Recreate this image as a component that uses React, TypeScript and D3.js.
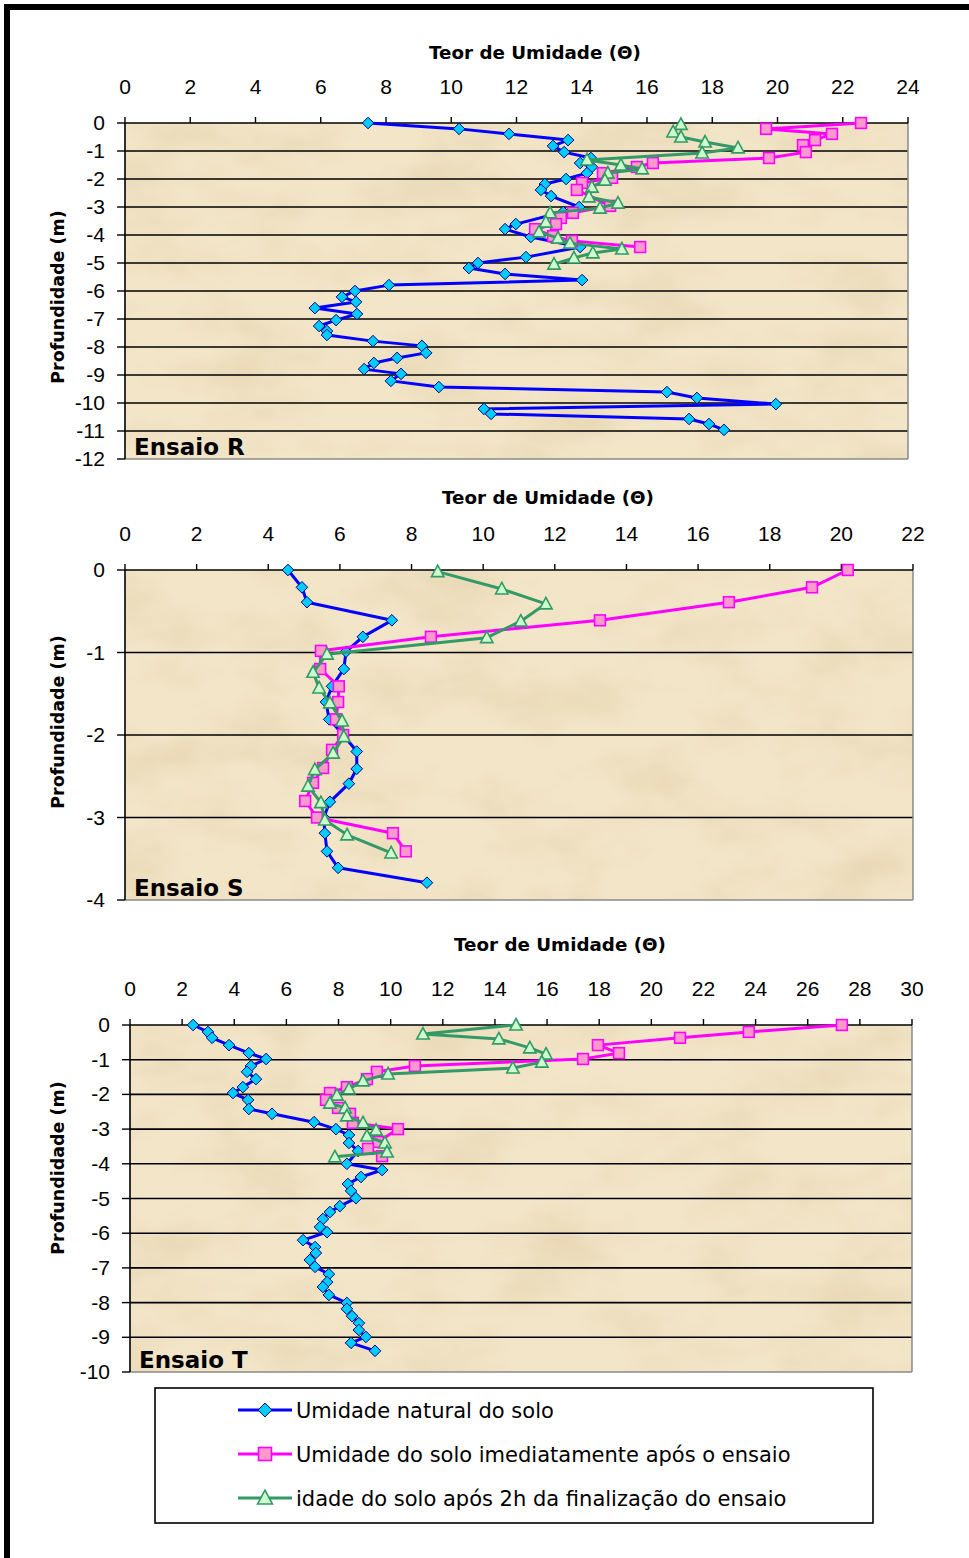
import React from 'react';
import * as d3 from 'd3';

type Pt = [number, number]; // [teor de umidade, profundidade]

// ---------- tick labels ----------
const xTicksR = [0, 2, 4, 6, 8, 10, 12, 14, 16, 18, 20, 22, 24];
const yTicksR = [0, -1, -2, -3, -4, -5, -6, -7, -8, -9, -10, -11, -12];
const xTicksS = [0, 2, 4, 6, 8, 10, 12, 14, 16, 18, 20, 22];
const yTicksS = [0, -1, -2, -3, -4];
const xTicksT = [0, 2, 4, 6, 8, 10, 12, 14, 16, 18, 20, 22, 24, 26, 28, 30];
const yTicksT = [0, -1, -2, -3, -4, -5, -6, -7, -8, -9, -10];

const seriesNames = [
  'Umidade natural do solo',
  'Umidade do solo imediatamente após o ensaio',
  'idade do solo após 2h da finalização do ensaio',
];

// ---------- Ensaio R ----------
const rNatural: Pt[] = [
  [7.45, 0], [10.24, -0.21], [11.77, -0.39], [13.58, -0.61], [13.12, -0.82], [13.46, -1.04],
  [14.28, -1.25], [13.95, -1.43], [14.31, -1.57], [14.16, -1.79], [13.52, -2.0], [12.87, -2.18],
  [12.75, -2.39], [13.06, -2.61], [13.92, -3.0], [13.43, -3.18], [11.98, -3.61], [11.65, -3.79],
  [12.44, -4.07], [13.95, -4.43], [12.29, -4.79], [10.82, -5.0], [10.54, -5.18], [11.65, -5.39],
  [14.01, -5.61], [8.09, -5.79], [7.05, -6.0], [6.65, -6.21], [7.08, -6.39], [5.82, -6.61],
  [7.11, -6.82], [6.47, -7.04], [5.95, -7.25], [6.19, -7.43], [6.19, -7.57], [7.6, -7.79],
  [9.1, -7.96], [9.23, -8.21], [8.34, -8.39], [7.63, -8.57], [7.33, -8.79], [8.46, -8.96],
  [8.15, -9.21], [9.62, -9.43], [16.61, -9.61], [17.53, -9.82], [19.95, -10.04], [11.0, -10.21],
  [11.22, -10.39], [17.29, -10.57], [17.9, -10.75], [18.36, -10.96],
];
const rImmediate: Pt[] = [
  [22.56, 0], [19.65, -0.21], [21.67, -0.39], [21.15, -0.61], [20.78, -0.79], [20.87, -1.04],
  [19.74, -1.25], [16.18, -1.43], [15.69, -1.57], [14.65, -1.79], [14.93, -1.96], [14.01, -2.14],
  [13.85, -2.39], [14.87, -2.96], [13.73, -3.21], [13.36, -3.39], [13.21, -3.61], [12.57, -3.79],
  [13.12, -4.04], [13.7, -4.21], [15.79, -4.43],
];
const r2h: Pt[] = [
  [17.04, -0.05], [16.8, -0.32], [17.04, -0.5], [17.78, -0.68], [18.79, -0.89], [17.69, -1.07],
  [14.16, -1.32], [15.2, -1.5], [15.85, -1.64], [14.8, -1.79], [14.71, -2.04], [14.31, -2.29],
  [14.22, -2.64], [15.11, -2.86], [14.56, -3.04], [13.03, -3.21], [12.9, -3.54], [12.69, -3.89],
  [13.27, -4.11], [13.64, -4.29], [15.23, -4.5], [14.34, -4.64], [13.76, -4.82], [13.15, -5.04],
];

// ---------- Ensaio S ----------
const sNatural: Pt[] = [
  [4.55, 0], [4.94, -0.21], [5.08, -0.39], [7.45, -0.61], [6.64, -0.81], [6.17, -0.99],
  [6.11, -1.2], [5.78, -1.41], [5.61, -1.6], [5.7, -1.81], [6.1, -2.0], [6.47, -2.2],
  [6.47, -2.41], [6.25, -2.59], [5.72, -2.81], [5.55, -3.0], [5.58, -3.19], [5.64, -3.41],
  [5.95, -3.61], [8.43, -3.79],
];
const sImmediate: Pt[] = [
  [20.18, 0], [19.18, -0.21], [16.86, -0.39], [13.26, -0.61], [8.54, -0.81], [5.47, -0.98],
  [5.45, -1.2], [5.97, -1.41], [5.95, -1.6], [5.89, -1.81], [6.09, -2.0], [5.78, -2.18],
  [5.53, -2.4], [5.25, -2.58], [5.03, -2.8], [5.36, -3.0], [7.48, -3.19], [7.84, -3.41],
];
const s2h: Pt[] = [
  [8.73, -0.02], [10.52, -0.23], [11.75, -0.41], [11.05, -0.62], [10.1, -0.82], [5.64, -1.02],
  [5.25, -1.24], [5.42, -1.43], [5.72, -1.61], [6.06, -1.83], [6.11, -2.02], [5.81, -2.22],
  [5.3, -2.42], [5.11, -2.62], [5.47, -2.82], [5.58, -3.03], [6.2, -3.21], [7.43, -3.43],
];

// ---------- Ensaio T ----------
const tNatural: Pt[] = [
  [2.42, 0], [2.99, -0.2], [3.15, -0.37], [3.8, -0.58], [4.56, -0.81], [5.22, -0.98],
  [4.64, -1.18], [4.49, -1.35], [4.83, -1.56], [4.33, -1.79], [3.95, -1.96], [4.53, -2.16],
  [4.56, -2.42], [5.45, -2.56], [7.06, -2.8], [7.9, -3.0], [8.4, -3.17], [8.4, -3.4],
  [8.75, -3.63], [8.32, -4.0], [9.67, -4.18], [8.86, -4.38], [8.36, -4.58], [8.48, -4.78],
  [8.67, -4.99], [8.05, -5.22], [7.67, -5.39], [7.4, -5.59], [7.29, -5.82], [7.56, -5.97],
  [6.64, -6.2], [7.1, -6.4], [7.13, -6.57], [6.9, -6.77], [7.1, -6.97], [7.63, -7.18],
  [7.56, -7.41], [7.4, -7.55], [7.63, -7.78], [8.32, -8.01], [8.32, -8.18], [8.52, -8.39],
  [8.78, -8.59], [8.78, -8.79], [9.05, -8.99], [8.48, -9.16], [9.4, -9.39],
];
const tImmediate: Pt[] = [
  [27.31, 0], [23.74, -0.2], [21.1, -0.37], [17.95, -0.58], [18.76, -0.81], [17.38, -0.98],
  [10.93, -1.18], [9.47, -1.35], [9.09, -1.56], [8.32, -1.79], [7.67, -1.96], [7.52, -2.16],
  [7.98, -2.39], [8.44, -2.56], [8.55, -2.82], [10.28, -3.0], [9.51, -3.37], [9.13, -3.57],
  [9.67, -3.78],
];
const t2h: Pt[] = [
  [14.81, 0], [11.24, -0.26], [14.15, -0.4], [15.34, -0.66], [15.96, -0.84], [15.8, -1.07],
  [14.69, -1.24], [9.9, -1.41], [8.94, -1.61], [8.4, -1.84], [7.94, -2.02], [7.67, -2.25],
  [8.25, -2.39], [8.32, -2.62], [8.94, -2.82], [9.44, -3.03], [9.09, -3.2], [9.78, -3.4],
  [9.86, -3.66], [7.86, -3.8],
];

// ---------- layout ----------
const FONT = '"DejaVu Sans", sans-serif';
const TICKFONT = '"Liberation Sans", Arial, sans-serif';

const COLORS = [
  { line: '#0000FF', fill: '#00CCFF', stroke: '#000080' },
  { line: '#FF00FF', fill: '#FF99CC', stroke: '#FF00FF' },
  { line: '#339966', fill: '#CCFFCC', stroke: '#339966' },
];

interface Panel {
  label: string;
  xTicks: number[];
  yTicks: number[];
  series: Pt[][];
  left: number; right: number; top: number; bottom: number;
  titleX: number; titleY: number; tickY: number; yLabelY: number;
}

const panels: Panel[] = [
  { label: 'Ensaio R', xTicks: xTicksR, yTicks: yTicksR, series: [rNatural, rImmediate, r2h],
    left: 125, right: 908, top: 123, bottom: 459, titleX: 535, titleY: 59, tickY: 94, yLabelY: 297 },
  { label: 'Ensaio S', xTicks: xTicksS, yTicks: yTicksS, series: [sNatural, sImmediate, s2h],
    left: 125, right: 913, top: 570, bottom: 900, titleX: 548, titleY: 504, tickY: 541, yLabelY: 722 },
  { label: 'Ensaio T', xTicks: xTicksT, yTicks: yTicksT, series: [tNatural, tImmediate, t2h],
    left: 130, right: 912, top: 1025, bottom: 1372, titleX: 560, titleY: 951, tickY: 996, yLabelY: 1168 },
];

function Marker({ kind, x, y, s = 1 }: { kind: number; x: number; y: number; s?: number }) {
  const c = COLORS[kind];
  if (kind === 0) {
    const r = 5.8 * s;
    return <path d={`M${x},${y - r}L${x + r},${y}L${x},${y + r}L${x - r},${y}Z`} fill={c.fill} stroke={c.stroke} strokeWidth={1} />;
  }
  if (kind === 1) {
    const h = 5.4 * s;
    return <rect x={x - h} y={y - h} width={2 * h} height={2 * h} fill={c.fill} stroke={c.stroke} strokeWidth={1.6} />;
  }
  const w = 6.2 * s;
  return <path d={`M${x},${y - 6.5 * s}L${x + w},${y + 5 * s}L${x - w},${y + 5 * s}Z`} fill={c.fill} stroke={c.stroke} strokeWidth={1.6} />;
}

function ChartPanel({ p, idx }: { p: Panel; idx: number }) {
  const xs = d3.scaleLinear().domain([0, p.xTicks[p.xTicks.length - 1]]).range([p.left, p.right]);
  const ys = d3.scaleLinear().domain([0, p.yTicks[p.yTicks.length - 1]]).range([p.top, p.bottom]);
  const line = d3.line<Pt>().x(d => xs(d[0])).y(d => ys(d[1]));
  const w = p.right - p.left;
  const h = p.bottom - p.top;
  return (
    <g>
      <text x={p.titleX} y={p.titleY} textAnchor="middle" fontFamily={FONT} fontWeight="bold" fontSize={18.3} fill="#000">
        Teor de Umidade (Θ)
      </text>
      <rect x={p.left} y={p.top} width={w} height={h} fill="#F3E6C8" />
      <rect x={p.left} y={p.top} width={w} height={h} filter={`url(#paper${idx})`} />
      {/* gridlines */}
      {p.yTicks.slice(1, -1).map(t => (
        <line key={t} x1={p.left} x2={p.right} y1={ys(t)} y2={ys(t)} stroke="#000" strokeWidth={1.6} />
      ))}
      {/* right/bottom plot border */}
      <line x1={p.right} x2={p.right} y1={p.top} y2={p.bottom} stroke="#8a8a8a" strokeWidth={1.5} />
      <line x1={p.left} x2={p.right} y1={p.bottom} y2={p.bottom} stroke="#8a8a8a" strokeWidth={1.5} />
      {/* axes */}
      <line x1={p.left} x2={p.right} y1={p.top} y2={p.top} stroke="#000" strokeWidth={1.6} />
      <line x1={p.left} x2={p.left} y1={p.top} y2={p.bottom} stroke="#000" strokeWidth={1.6} />
      {p.xTicks.map(t => (
        <g key={t}>
          <line x1={xs(t)} x2={xs(t)} y1={p.top - 6} y2={p.top} stroke="#000" strokeWidth={1.4} />
          <text x={xs(t)} y={p.tickY} textAnchor="middle" fontFamily={TICKFONT} fontSize={21} fill="#000">{t}</text>
        </g>
      ))}
      {p.yTicks.map(t => (
        <g key={t}>
          <line x1={p.left - 8} x2={p.left} y1={ys(t)} y2={ys(t)} stroke="#000" strokeWidth={1.4} />
          <text x={p.left - 20} y={ys(t) + 7} textAnchor="end" fontFamily={TICKFONT} fontSize={21} fill="#000">{t}</text>
        </g>
      ))}
      <text transform={`translate(64,${p.yLabelY}) rotate(-90)`} textAnchor="middle" fontFamily={FONT} fontWeight="bold" fontSize={17.5} fill="#000">
        Profundidade (m)
      </text>
      {/* series */}
      {p.series.map((s, k) => (
        <g key={k}>
          <path d={line(s) || ''} fill="none" stroke={COLORS[k].line} strokeWidth={3} strokeLinejoin="round" />
          {s.map((d, i) => <Marker key={i} kind={k} x={xs(d[0])} y={ys(d[1])} />)}
        </g>
      ))}
      <text x={p.left + 9} y={p.bottom - 4} fontFamily={FONT} fontWeight="bold" fontSize={23} fill="#000">{p.label}</text>
    </g>
  );
}

export default function App() {
  const legendY = [1410, 1454, 1498];
  return (
    <svg width={969} height={1558} style={{ position: 'absolute', left: 0, top: 0, background: '#fff' }}>
      <defs>
        {panels.map((_, i) => (
          <filter key={i} id={`paper${i}`} x="0" y="0" width="100%" height="100%">
            <feTurbulence type="fractalNoise" baseFrequency="0.01 0.018" numOctaves={4} seed={i * 7 + 3} />
            <feColorMatrix type="matrix" values="0 0 0 0 0.80  0 0 0 0 0.68  0 0 0 0 0.46  1.8 0 0 0 -0.72" />
          </filter>
        ))}
      </defs>
      <rect x={0} y={0} width={969} height={1558} fill="#fff" />
      {panels.map((p, i) => <ChartPanel key={p.label} p={p} idx={i} />)}
      {/* legend */}
      <rect x={155} y={1388} width={718} height={135} fill="#fff" stroke="#000" strokeWidth={1.6} />
      {seriesNames.map((n, k) => (
        <g key={k}>
          <line x1={238} x2={292} y1={legendY[k]} y2={legendY[k]} stroke={COLORS[k].line} strokeWidth={3} />
          <Marker kind={k} x={265} y={legendY[k]} s={1.2} />
          <text x={296} y={legendY[k] + 8} fontFamily={FONT} fontSize={21} fill="#000">{n}</text>
        </g>
      ))}
      {/* outer frame */}
      <path d="M7,1560 L7,7 L975,7" fill="none" stroke="#000" strokeWidth={6} />
    </svg>
  );
}
